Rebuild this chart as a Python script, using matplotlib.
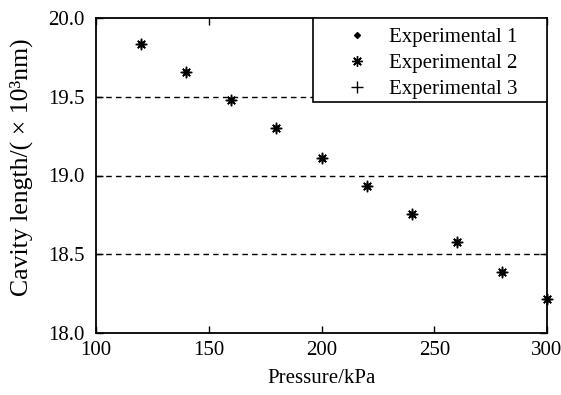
import matplotlib.pyplot as plt
from matplotlib.patches import Rectangle

plt.rcParams['font.family'] = ['Liberation Serif', 'DejaVu Serif']

# Data
pressure = [120, 140, 160, 180, 200, 220, 240, 260, 280, 300]
exp1 = [19.835, 19.66, 19.48, 19.30, 19.11, 18.935, 18.755, 18.58, 18.39, 18.215]
exp2 = [19.835, 19.66, 19.48, 19.30, 19.11, 18.935, 18.755, 18.58, 18.39, 18.215]
exp3 = [19.835, 19.66, 19.48, 19.30, 19.11, 18.935, 18.755, 18.58, 18.39, 18.215]
xticks = [100, 150, 200, 250, 300]
yticks = [18.0, 18.5, 19.0, 19.5, 20.0]

fig = plt.figure(figsize=(5.61, 3.95), dpi=100)
ax = fig.add_axes([96 / 561, 1 - 333 / 395, 451 / 561, 315 / 395])

for yv in yticks[1:-1]:
    ax.axhline(yv, color='black', linestyle=(0, (4, 3)), linewidth=1, zorder=1)

ax.plot(pressure, exp1, linestyle='none', marker='D', markersize=3,
        color='black', label='Experimental 1', clip_on=False, zorder=3)
ax.plot(pressure, exp2, linestyle='none', marker=(8, 2, 0), markersize=7.5,
        markeredgewidth=1.0, color='black', label='Experimental 2', clip_on=False, zorder=3)
ax.plot(pressure, exp3, linestyle='none', marker='+', markersize=9,
        markeredgewidth=1.0, color='black', label='Experimental 3', clip_on=False, zorder=3)

ax.set_xlim(100, 300)
ax.set_ylim(18.0, 20.0)
ax.set_xticks(xticks)
ax.set_yticks(yticks)
ax.set_yticklabels(['%.1f' % v for v in yticks])
ax.tick_params(direction='in', top=True, right=True, length=5, width=1,
               labelsize=15, colors='black')
ax.tick_params(axis='y', pad=8)
ax.tick_params(axis='x', pad=6)
for s in ax.spines.values():
    s.set_linewidth(1.3)

ax.set_xlabel('Pressure/kPa', fontsize=15, labelpad=6)
ax.set_ylabel('Cavity length/( × 10³nm)', fontsize=18.5, labelpad=6)
ax.yaxis.set_label_coords(-0.14, 0.527)

# legend box drawn separately (white, framed)
box = Rectangle((0.481, 0.733), 0.519, 0.267, transform=ax.transAxes,
                facecolor='white', edgecolor='black', linewidth=1.2, zorder=4)
ax.add_patch(box)
leg = ax.legend(loc='upper left', bbox_to_anchor=(0.537, 0.969), fontsize=15,
                frameon=False, borderaxespad=0, borderpad=0,
                handlelength=1.8, handletextpad=0.65, labelspacing=0.3)
leg.set_zorder(5)

fig.savefig('out.png', dpi=100)
